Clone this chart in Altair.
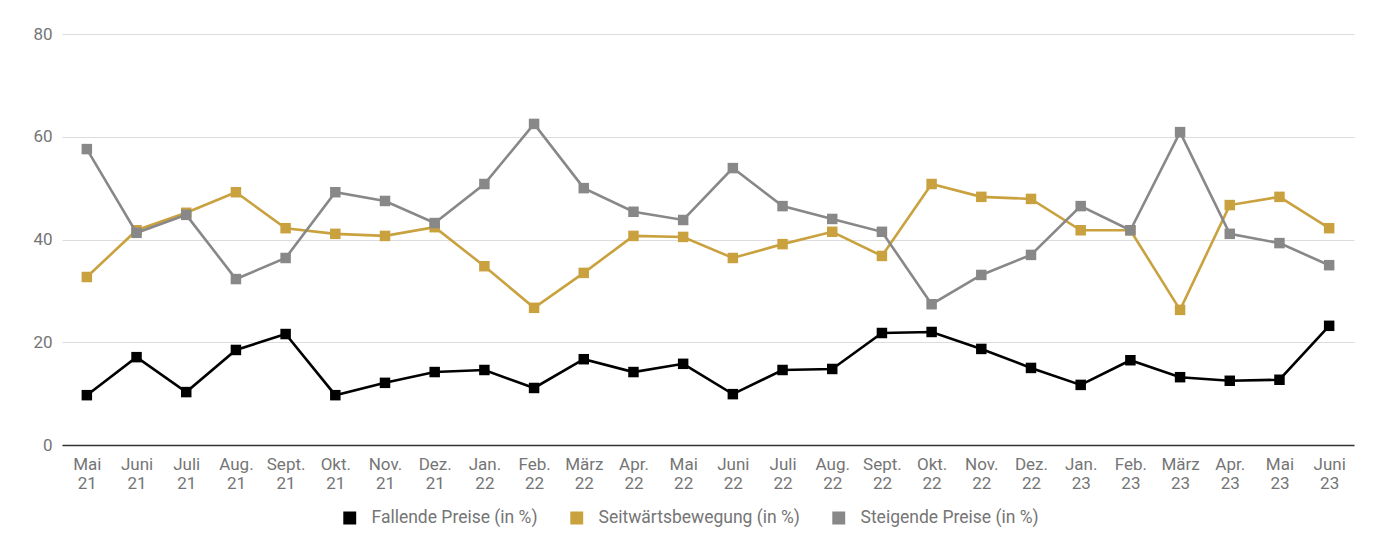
import altair as alt
import pandas as pd

months = ["Mai 21", "Juni 21", "Juli 21", "Aug. 21", "Sept. 21", "Okt. 21", "Nov. 21", "Dez. 21",
          "Jan. 22", "Feb. 22", "März 22", "Apr. 22", "Mai 22", "Juni 22", "Juli 22", "Aug. 22",
          "Sept. 22", "Okt. 22", "Nov. 22", "Dez. 22", "Jan. 23", "Feb. 23", "März 23", "Apr. 23",
          "Mai 23", "Juni 23"]

fallende = [9.7, 17.1, 10.3, 18.5, 21.6, 9.7, 12.1, 14.2, 14.6, 11.1, 16.7, 14.2, 15.8, 9.9,
            14.6, 14.8, 21.8, 22.0, 18.7, 15.0, 11.7, 16.5, 13.2, 12.5, 12.7, 23.2]
seitwaerts = [32.7, 41.8, 45.2, 49.2, 42.2, 41.1, 40.7, 42.4, 34.8, 26.7, 33.5, 40.7, 40.5, 36.4,
              39.1, 41.5, 36.8, 50.8, 48.3, 47.9, 41.8, 41.8, 26.3, 46.7, 48.3, 42.2]
steigende = [57.6, 41.3, 44.8, 32.3, 36.4, 49.2, 47.5, 43.2, 50.8, 62.5, 50.0, 45.4, 43.8, 53.9,
             46.5, 44.0, 41.5, 27.4, 33.1, 37.0, 46.5, 41.8, 60.9, 41.1, 39.3, 35.0]

series_names = ["Fallende Preise (in %)", "Seitwärtsbewegung (in %)", "Steigende Preise (in %)"]
colors = ["#000000", "#C9A13E", "#888888"]

rows = []
for name, vals in zip(series_names, [fallende, seitwaerts, steigende]):
    for m, v in zip(months, vals):
        rows.append({"Monat": m, "Wert": v, "Serie": name})
df = pd.DataFrame(rows)

x = alt.X("Monat:O", sort=months, title=None,
          scale=alt.Scale(type="point", padding=0.5),
          axis=alt.Axis(labelExpr="split(datum.label, ' ')", labelAngle=0, labelFont="Roboto",
                        labelFontSize=17, labelColor="#757575", labelLineHeight=19,
                        domain=True, domainColor="#333333", domainWidth=1.5, ticks=False,
                        labelPadding=11, grid=False, labelOverlap=False))
y = alt.Y("Wert:Q", title=None, scale=alt.Scale(domain=[0, 80]),
          axis=alt.Axis(values=[0, 20, 40, 60, 80], labelFont="Roboto", labelFontSize=17,
                        labelColor="#757575", domain=False, ticks=False, labelPadding=10,
                        gridColor="#dcdcdc", gridWidth=1.2))
color = alt.Color("Serie:N", sort=series_names,
                  scale=alt.Scale(domain=series_names, range=colors),
                  legend=alt.Legend(title=None, orient="none", direction="horizontal",
                                    legendX=279, legendY=475, symbolType="square",
                                    symbolSize=130, labelFont="Roboto", labelFontSize=17.5,
                                    labelColor="#757575", columnPadding=30, symbolOffset=0,
                                    labelOffset=13, labelLimit=0))

base = alt.Chart(df)
layers = []
for name in series_names:
    d = base.transform_filter(alt.datum.Serie == name)
    layers.append(d.mark_line(strokeWidth=2.6).encode(x=x, y=y, color=color))
    layers.append(d.mark_point(shape="square", filled=True, size=110, opacity=1).encode(x=x, y=y, color=color))

chart = alt.layer(*layers).properties(
    width=1292, height=411,
    autosize=alt.AutoSizeParams(type="none"),
    padding={"left": 54, "top": 26, "right": 14, "bottom": 97},
    background="white",
).configure_view(stroke=None)

chart.save("out.html", embed_options={"renderer": "svg", "actions": False})
